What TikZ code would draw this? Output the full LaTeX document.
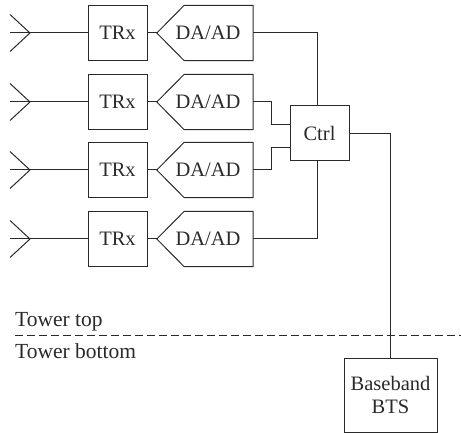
\documentclass[tikz,border=0pt]{standalone}
\usepackage{fontspec}
\setmainfont{Liberation Serif}
\definecolor{ink}{HTML}{2A2A2A}
\tikzset{
  wire/.style={draw=ink,line width=1pt},
  boxed/.style={draw=ink,line width=1pt,inner sep=0pt,align=center,text=ink,font=\fontsize{20.5}{24}\selectfont},
  plain/.style={inner sep=0pt,text=ink,font=\fontsize{20.5}{24}\selectfont},
  tower/.style={inner sep=0pt,text=ink,font=\fontsize{21.5}{24}\selectfont},
}
\begin{document}
\begin{tikzpicture}[x=1pt,y=-1pt]
\useasboundingbox (0,0) rectangle (461,433);
\foreach \n/\yc in {1/33,2/102,3/170,4/239}{
  \coordinate (a\n) at (30,\yc);
  \coordinate (au\n) at (10,\yc-18.5);
  \coordinate (al\n) at (10,\yc+18.5);
  \coordinate (am\n) at (10,\yc);
  \node[boxed,minimum width=59pt,minimum height=55pt] (t\n) at (117.5,\yc) {TRx};
  \node[plain,minimum width=96pt,minimum height=55pt] (d\n) at (205,\yc) {\hspace*{6pt}DA/AD};
  \draw[wire,line join=miter] (d\n.west) -- (184,\yc-27.5) -- (d\n.north east) -- (d\n.south east) -- (184,\yc+27.5) -- cycle;
  \draw[wire] (au\n) -- (a\n) -- (al\n);
  \draw[wire] (am\n) -- (t\n.west);
  \draw[wire] (t\n.east) -- (d\n.west);
}
\node[boxed,minimum width=59pt,minimum height=55pt] (c) at (319.5,133.5) {Ctrl};
\node[boxed,minimum width=93pt,minimum height=74pt] (b) at (390.5,395) {Baseband\\[-1pt]BTS};
\coordinate (dl) at (15,335);
\coordinate (dr) at (461,335);
\coordinate (ct) at (317,106);
\coordinate (cb) at (317,161);
\draw[wire,dash pattern=on 8pt off 4pt] (dl) -- (dr);
\node[tower,anchor=base west] (tt) at (15,326) {Tower top};
\node[tower,anchor=base west] (tb) at (15,358) {Tower bottom};
\draw[wire] (d1.east) -| (ct);
\draw[wire] (d4.east) -| (cb);
\draw[wire] (d2.east) -- (271.5,102) -- (271.5,125) -- (290,125);
\draw[wire] (d3.east) -- (271.5,170) -- (271.5,148) -- (290,148);
\draw[wire] (c.east) -| (b.north);
\end{tikzpicture}
\end{document}
